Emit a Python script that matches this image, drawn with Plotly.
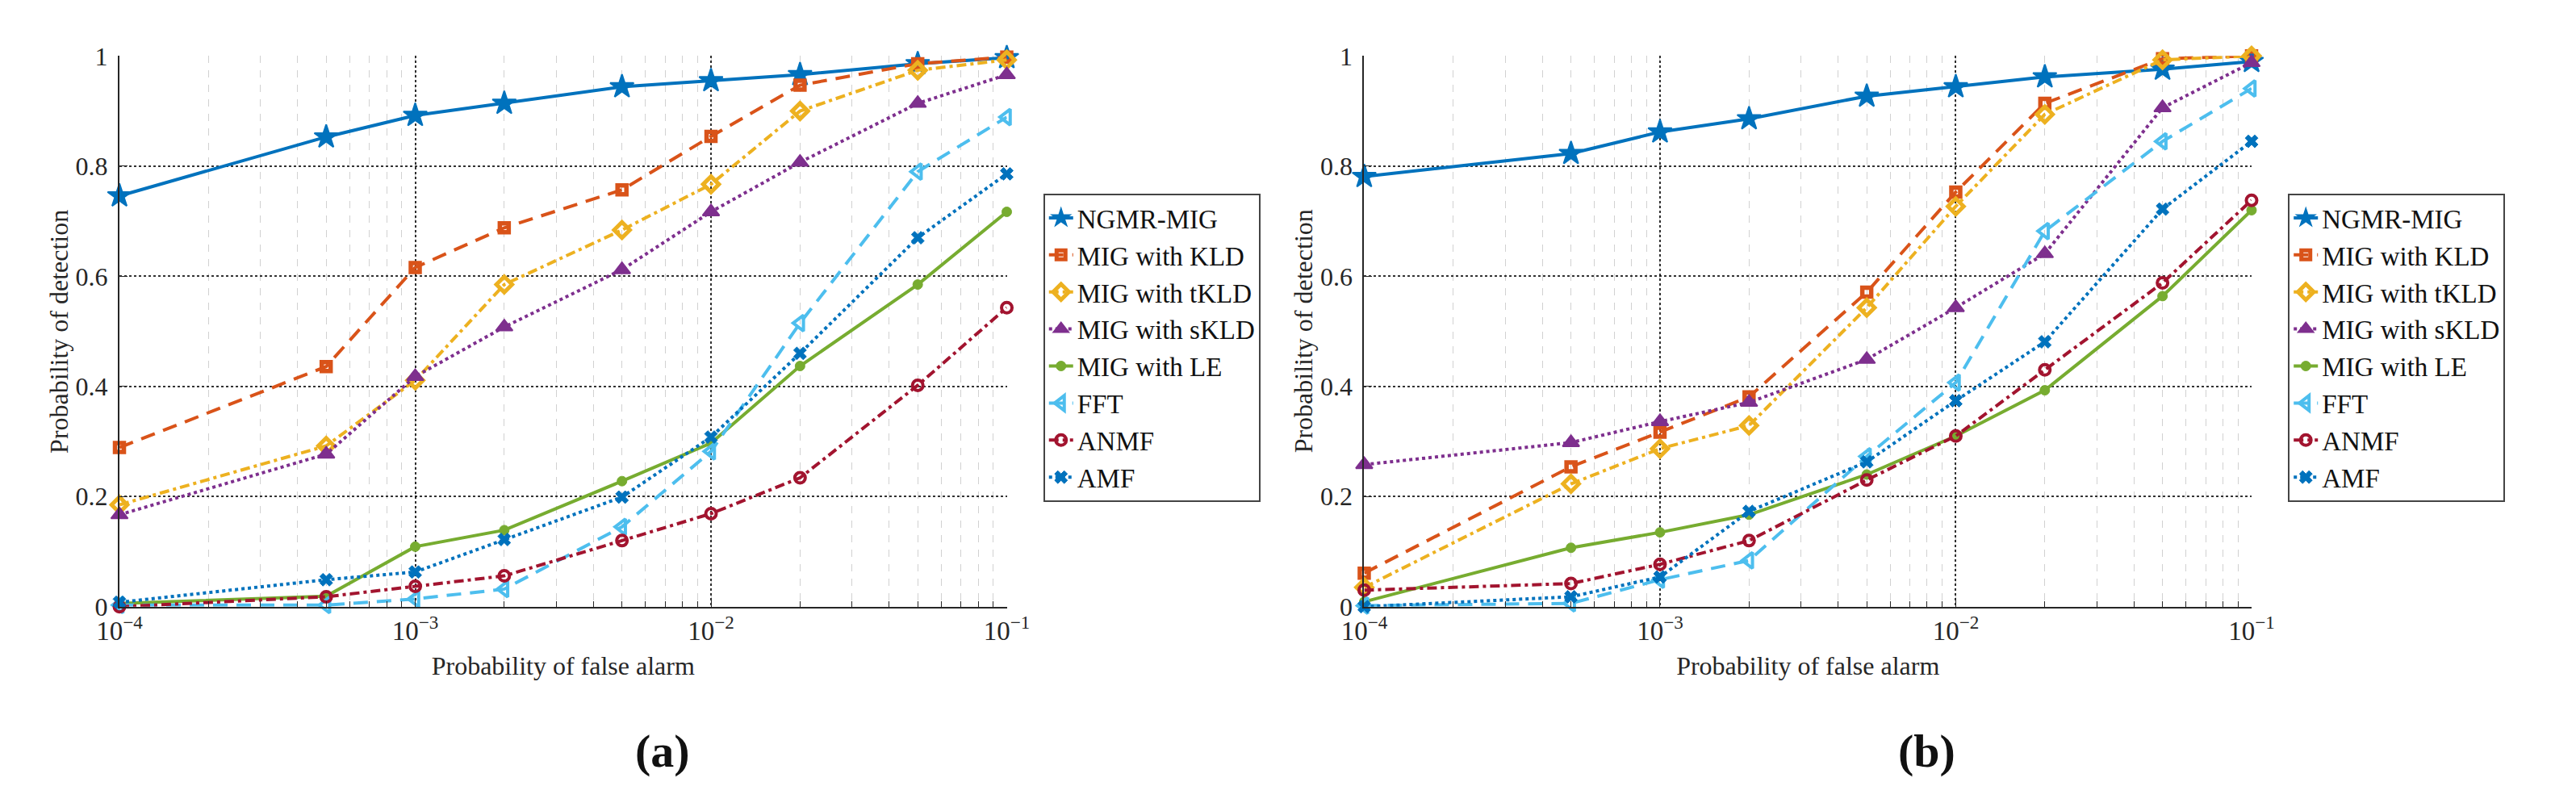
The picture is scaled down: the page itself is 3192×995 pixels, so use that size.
import plotly.graph_objects as go

# false alarm probabilities (x, log scale)
PFA = [1e-4, 5e-4, 1e-3, 2e-3, 5e-3, 1e-2, 2e-2, 5e-2, 1e-1]
X_TICKS = [1e-4, 1e-3, 1e-2, 1e-1]
X_TICK_TEXT = ["10<sup>−4</sup>", "10<sup>−3</sup>", "10<sup>−2</sup>", "10<sup>−1</sup>"]

NAMES = ["NGMR-MIG", "MIG with KLD", "MIG with tKLD", "MIG with sKLD",
         "MIG with LE", "FFT", "ANMF", "AMF"]

# (a)
A_NGMR = [0.746, 0.853, 0.892, 0.914, 0.944, 0.955, 0.966, 0.986, 0.997]
A_KLD = [0.289, 0.436, 0.616, 0.688, 0.757, 0.854, 0.947, 0.986, 0.998]
A_TKLD = [0.185, 0.292, 0.411, 0.585, 0.684, 0.767, 0.900, 0.974, 0.993]
A_SKLD = [0.167, 0.277, 0.418, 0.508, 0.612, 0.717, 0.807, 0.914, 0.966]
A_LE = [0.006, 0.019, 0.109, 0.139, 0.228, 0.297, 0.437, 0.585, 0.717]
A_FFT = [0.003, 0.003, 0.014, 0.032, 0.145, 0.282, 0.515, 0.790, 0.889]
A_ANMF = [0.0, 0.018, 0.037, 0.056, 0.120, 0.169, 0.234, 0.402, 0.543]
A_AMF = [0.008, 0.049, 0.063, 0.122, 0.199, 0.308, 0.460, 0.670, 0.786]

# (b)
B_NGMR = [0.781, 0.823, 0.862, 0.886, 0.927, 0.944, 0.962, 0.976, 0.990]
B_KLD = [0.061, 0.254, 0.317, 0.381, 0.571, 0.753, 0.914, 0.995, 1.0]
B_TKLD = [0.035, 0.223, 0.287, 0.329, 0.543, 0.727, 0.894, 0.993, 1.0]
B_SKLD = [0.258, 0.298, 0.336, 0.371, 0.449, 0.543, 0.641, 0.906, 0.988]
B_LE = [0.009, 0.107, 0.135, 0.167, 0.240, 0.310, 0.393, 0.564, 0.720]
B_FFT = [0.002, 0.006, 0.049, 0.084, 0.273, 0.407, 0.682, 0.845, 0.941]
B_ANMF = [0.030, 0.042, 0.077, 0.120, 0.230, 0.310, 0.430, 0.588, 0.738]
B_AMF = [0.0, 0.018, 0.054, 0.173, 0.263, 0.374, 0.481, 0.722, 0.845]

COLORS = ["#0072BD", "#D95319", "#EDB120", "#7E2F8E",
          "#77AC30", "#4DBEEE", "#A2142F", "#0072BD"]
DASHES = ["solid", "18px,11px", "12px,5px,4px,5px", "4px,4px",
          "solid", "18px,11px", "12px,5px,4px,5px", "4px,4px"]
SYMBOLS = ["star", "square-open", "diamond-open", "triangle-up",
           "circle", "triangle-left-open", "circle-open", "x"]
SIZES = [22, 11, 15, 18, 12, 17, 13, 14]
EDGE = [2, 5.5, 5, 2, 1, 4, 4, 1]

FONT = "Liberation Serif"
TXT = "#262626"

fig = go.Figure()


def add_set(vals, xa, ya, leg):
    for i, v in enumerate(vals):
        fig.add_trace(go.Scatter(
            x=PFA, y=v, name=NAMES[i], mode="lines+markers",
            xaxis=xa, yaxis=ya, legend=leg, cliponaxis=False,
            line=dict(color=COLORS[i], width=4, dash=DASHES[i]),
            marker=dict(symbol=SYMBOLS[i], size=SIZES[i], color=COLORS[i],
                        line=dict(color=COLORS[i], width=EDGE[i])),
        ))


add_set([A_NGMR, A_KLD, A_TKLD, A_SKLD, A_LE, A_FFT, A_ANMF, A_AMF], "x", "y", "legend")
add_set([B_NGMR, B_KLD, B_TKLD, B_SKLD, B_LE, B_FFT, B_ANMF, B_AMF], "x2", "y2", "legend2")


def xax(dom, anchor):
    return dict(
        type="log", domain=dom, anchor=anchor, range=[-4.0002, -0.9998],
        tickmode="array", tickvals=X_TICKS, ticktext=X_TICK_TEXT,
        showline=True, linecolor=TXT, linewidth=2, mirror=False,
        ticks="inside", ticklen=10, tickcolor=TXT,
        showgrid=True, gridcolor="rgba(0,0,0,0.8)", griddash="dot", gridwidth=1.5,
        minor=dict(dtick="D1", ticks="inside", ticklen=7, tickcolor=TXT,
                   showgrid=True, gridcolor="rgba(0,0,0,0.18)",
                   griddash="dash", gridwidth=1),
        tickfont=dict(family=FONT, size=33, color=TXT),
        title=dict(text="Probability of false alarm", standoff=14,
                   font=dict(family=FONT, size=32, color=TXT)),
        zeroline=False,
    )


def yax(dom, anchor):
    return dict(
        domain=dom, anchor=anchor, range=[0, 1], dtick=0.2,
        showline=True, linecolor=TXT, linewidth=2, mirror=False,
        ticks="inside", ticklen=10, tickcolor=TXT,
        showgrid=True, gridcolor="rgba(0,0,0,0.8)", griddash="dot", gridwidth=1.5,
        tickfont=dict(family=FONT, size=32, color=TXT),
        ticklabelstandoff=6,
        zeroline=False,
    )


W, H = 3192, 995
y_dom = [1 - 753 / H, 1 - 45 / H]
y_mid = 1 - 399 / H

leg_style = dict(
    font=dict(family=FONT, size=33, color="#111111"),
    bordercolor="#444444", borderwidth=2, bgcolor="white",
    xanchor="left", yanchor="top", tracegroupgap=0,
)

ann_font = dict(family=FONT, size=32, color=TXT)
cap_font = dict(family=FONT, size=58, color="#111111")

fig.update_layout(
    width=W, height=H,
    margin=dict(l=0, r=0, t=0, b=0),
    paper_bgcolor="white", plot_bgcolor="white",
    xaxis=xax([113 / W, 1233 / W], "y"),
    yaxis=yax(y_dom, "x"),
    xaxis2=xax([1684 / W, 2804 / W], "y2"),
    yaxis2=yax(y_dom, "x2"),
    legend=dict(x=1279 / W, y=1 - 222 / H, **leg_style),
    legend2=dict(x=2850 / W, y=1 - 222 / H, **leg_style),
    annotations=[
        dict(text="Probability of detection", x=36 / W, y=y_mid, textangle=-90,
             xref="paper", yref="paper", xanchor="center", yanchor="middle",
             showarrow=False, font=ann_font),
        dict(text="Probability of detection", x=1607 / W, y=y_mid, textangle=-90,
             xref="paper", yref="paper", xanchor="center", yanchor="middle",
             showarrow=False, font=ann_font),
        dict(text="<b>(a)</b>", x=798 / W, y=1 - 938 / H, xref="paper", yref="paper",
             xanchor="center", yanchor="middle", showarrow=False, font=cap_font),
        dict(text="<b>(b)</b>", x=2394 / W, y=1 - 938 / H, xref="paper", yref="paper",
             xanchor="center", yanchor="middle", showarrow=False, font=cap_font),
    ],
)

fig.write_html("out.html")
